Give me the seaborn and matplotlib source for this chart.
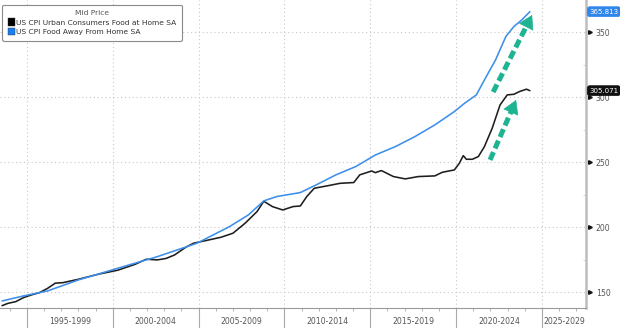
import matplotlib
matplotlib.use("Agg")
import matplotlib.pyplot as plt
import matplotlib.transforms as mtransforms
from matplotlib.patches import Patch
import numpy as np
import pandas as pd
import seaborn as sns

# Food at home index (SA), decimal year -> level
home_years = [1993.55, 1993.9, 1994.35, 1994.8, 1995.27, 1995.73, 1996.2, 1996.65,
              1997.1, 1998.0, 1999.2, 2000.3, 2001.3, 2001.95, 2002.6, 2003.1,
              2003.6, 2004.25, 2004.7, 2005.4, 2006.3, 2007.0, 2007.7, 2008.4,
              2008.8, 2009.3, 2009.9, 2010.5, 2010.93, 2011.3, 2011.74, 2012.55,
              2013.24, 2014.04, 2014.39, 2015.08, 2015.3, 2015.65, 2016.35, 2017.04,
              2017.8, 2018.76, 2019.2, 2019.9, 2020.19, 2020.42, 2020.6, 2020.95,
              2021.3, 2021.65, 2022.1, 2022.56, 2022.98, 2023.37, 2023.7, 2024.1,
              2024.3]
home_values = [139.7, 141.5, 142.8, 145.9, 148.0, 149.7, 153.0, 157.0,
               157.4, 160.0, 164.0, 167.0, 171.5, 175.4, 174.9, 176.0,
               178.7, 184.6, 187.7, 189.7, 192.3, 195.4, 203.0, 212.0,
               220.0, 215.9, 213.3, 215.9, 216.4, 223.6, 230.0, 232.0,
               233.8, 234.4, 240.3, 243.3, 242.0, 243.6, 239.0, 237.2,
               239.0, 239.5, 242.3, 244.1, 249.2, 255.1, 252.3, 252.3,
               254.4, 262.0, 276.0, 294.0, 301.8, 302.3, 304.4, 306.2,
               305.071]

# Food away from home index (SA)
away_years = [1993.55, 1994.8, 1996.2, 1998.0, 2000.3, 2002.6, 2004.9, 2006.8,
              2007.9, 2008.8, 2009.55, 2010.93, 2011.85, 2013.0, 2014.16, 2015.3,
              2016.46, 2017.6, 2018.76, 2019.9, 2020.5, 2021.18, 2021.76, 2022.3,
              2022.9, 2023.37, 2023.83, 2024.3]
away_values = [143.3, 147.2, 151.0, 159.5, 168.5, 177.4, 187.7, 200.5,
               209.5, 220.3, 223.6, 226.7, 232.6, 240.3, 246.7, 255.6,
               262.0, 269.7, 278.7, 289.0, 295.4, 301.8, 315.9, 328.7,
               346.7, 354.4, 359.5, 365.813]

series_names = ["US CPI Urban Consumers Food at Home SA",
                "US CPI Food Away From Home SA"]
series_colors = ["#1e1e1e", "#3d8fea"]
legend_colors = ["#000000", "#1a7ff2"]

period_starts = [1995, 2000, 2005, 2010, 2015, 2020, 2025]
period_labels = ["1995-1999", "2000-2004", "2005-2009", "2010-2014",
                 "2015-2019", "2020-2024", "2025-2029"]
y_ticks = [150, 200, 250, 300, 350]

# trend arrows: (tail year, tail level, head year, head level)
arrows = [(2022.16, 304.0, 2024.43, 363.3),
          (2021.98, 251.8, 2023.5, 297.9)]
arrow_color = "#1eb391"

df = pd.concat([
    pd.DataFrame({"year": home_years, "value": home_values, "series": series_names[0]}),
    pd.DataFrame({"year": away_years, "value": away_values, "series": series_names[1]}),
], ignore_index=True)

sns.set_theme(style="white")
plt.rcParams["font.family"] = ["DejaVu Sans"]

W, H = 620, 328
fig = plt.figure(figsize=(W / 100, H / 100), dpi=100)
ax = fig.add_axes([0, 20 / H, 586 / W, 308 / H])

x0, x1 = 1993.43, 2027.57
y0, y1 = 137.9, 374.8
ax.set_xlim(x0, x1)
ax.set_ylim(y0, y1)

# gridlines
for yv in y_ticks:
    ax.axhline(yv, color="#c8c8c8", lw=0.8, ls=(0, (1, 2.5)), zorder=0)
for xv in period_starts:
    ax.axvline(xv, color="#c8c8c8", lw=0.8, ls=(0, (1, 2.5)), zorder=0)

sns.lineplot(data=df, x="year", y="value", hue="series", palette=series_colors,
             hue_order=series_names, sort=False, estimator=None, lw=1.15,
             legend=False, ax=ax, zorder=3)

# dashed trend arrows: dashed shaft plus a solid head
for (tx, ty, hx, hy) in arrows:
    f = 0.86
    bx, by = tx + f * (hx - tx), ty + f * (hy - ty)
    ax.plot([tx, bx], [ty, by], color=arrow_color, lw=3.6,
            ls=(0, (1.7, 0.8)), solid_capstyle="butt", dash_capstyle="butt",
            zorder=4)
    ax.annotate("", xy=(hx, hy), xytext=(bx, by),
                arrowprops=dict(arrowstyle="-|>,head_length=0.75,head_width=0.45",
                                color=arrow_color, lw=0.5, shrinkA=0, shrinkB=0),
                zorder=4)

# spines
for s in ["left", "top"]:
    ax.spines[s].set_visible(False)
ax.spines["right"].set_color("#bdbdbd")
ax.spines["right"].set_linewidth(1.8)
ax.spines["bottom"].set_color("#9a9a9a")
ax.spines["bottom"].set_linewidth(0.8)

# x axis: period separators as long ticks, yearly minor ticks
ax.set_xticks(period_starts)
ax.set_xticklabels([""] * len(period_starts))
ax.set_xticks(np.arange(1994, 2028), minor=True)
ax.tick_params(axis="x", which="major", length=14.5, width=0.8, color="#a8a8a8",
               direction="out", bottom=True)
ax.tick_params(axis="x", which="minor", length=2, width=0.6, color="#a8a8a8",
               direction="out", bottom=True)
trans_x = mtransforms.blended_transform_factory(ax.transData, ax.transAxes)
for start, lab in zip(period_starts, period_labels):
    end = min(start + 5, x1)
    ax.text((start + end) / 2, -0.045, lab, transform=trans_x, ha="center",
            va="center", fontsize=5.6, color="#555555")

# y axis on the right with triangle markers
ax.yaxis.tick_right()
ax.set_yticks(y_ticks)
ax.set_yticklabels([str(v) for v in y_ticks])
ax.set_yticks(np.arange(175, 375, 50), minor=True)
ax.tick_params(axis="y", which="major", length=0, pad=7, labelsize=5.6,
               labelcolor="#555555", right=True)
ax.tick_params(axis="y", which="minor", length=2, width=0.6, color="#cfcfcf",
               direction="in", right=True)
trans_y = mtransforms.blended_transform_factory(ax.transAxes, ax.transData)
ax.plot([1.0065] * len(y_ticks), y_ticks, ls="none", marker=">", ms=2.6,
        color="#111111", transform=trans_y, clip_on=False, zorder=6)
ax.set_xlabel("")
ax.set_ylabel("")

# last-value tags
for vals, col in [(away_values, "#2f86ea"), (home_values, "#111111")]:
    ax.text(1.0055, vals[-1], f"{vals[-1]:.3f}", transform=trans_y, ha="left",
            va="center", fontsize=5.0, color="white", zorder=7, clip_on=False,
            bbox=dict(boxstyle="round,pad=0.28,rounding_size=0.35", fc=col,
                      ec=col, lw=0.5))

# legend
handles = [Patch(facecolor=c, edgecolor="#333333", lw=0.3) for c in legend_colors]
leg = ax.legend(handles, series_names, title="Mid Price", loc="upper left",
                bbox_to_anchor=(0.004, 0.985), fontsize=5.4, title_fontsize=5.4,
                handlelength=0.9, handleheight=1.1, handletextpad=0.15,
                labelspacing=0.3, borderpad=0.75, frameon=True, fancybox=True,
                borderaxespad=0)
leg.get_title().set_color("#555555")
for t in leg.get_texts():
    t.set_color("#333333")
leg.get_frame().set_edgecolor("#8a8a8a")
leg.get_frame().set_linewidth(0.8)
leg.get_frame().set_facecolor("white")
leg.get_frame().set_alpha(1)
leg.set_zorder(8)

fig.savefig("out.png", dpi=100, facecolor="white")
